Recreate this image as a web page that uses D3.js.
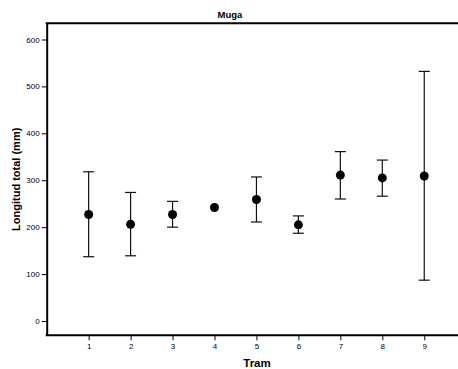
<!DOCTYPE html>
<meta charset="utf-8">
<head>
  <title>Muga</title>
</head>
<script src="https://d3js.org/d3.v7.min.js"></script>
<style>
  html, body { margin: 0; background: #fff; overflow: hidden; }
  svg { display: block; font-family: "Liberation Sans", Arial, sans-serif; overflow: hidden; }
</style>
<div id="chart"></div>
<script>

  // data
  var trams = [1, 2, 3, 4, 5, 6, 7, 8, 9];
  var means = [227, 206, 227, 242, 259, 205, 311, 305, 309];
  var lower = [137, 139, 200, 242, 211, 187, 260, 266, 87];
  var upper = [318, 274, 255, 242, 307, 224, 361, 343, 532];
  var yTicks = [0, 100, 200, 300, 400, 500, 600];

  var width = 458, height = 369;
  var margin = {top: 23.3, left: 46.7, bottom: 335.3};

  var svg = d3.select("#chart")
    .append("svg")
      .attr("width", width)
      .attr("height", height);

  var x = d3.scaleLinear()
    .domain([0, 10])
    .range([margin.left, margin.left + 419.5]);

  var y = d3.scaleLinear()
    .domain([-30.5, 634.5])
    .range([margin.bottom, margin.top]);

  // x axis
  var xAxis = svg.append("g")
    .attr("transform", "translate(0," + margin.bottom + ")")
    .call(d3.axisBottom(x).tickValues(trams).tickSize(5).tickSizeOuter(0).tickPadding(3));
  xAxis.select(".domain").remove();

  // y axis
  var yAxis = svg.append("g")
    .attr("transform", "translate(" + margin.left + ",0)")
    .call(d3.axisLeft(y).tickValues(yTicks).tickSize(5).tickSizeOuter(0).tickPadding(2));
  yAxis.select(".domain").attr("stroke-width", 2);

  svg.selectAll(".tick text")
    .style("font-size", "8px")
    .attr("fill", "#000");

  // top and bottom frame lines, open on the right
  svg.append("path")
    .attr("d", "M" + (margin.left - 1) + "," + margin.top + "H" + width +
               "M" + (margin.left - 1) + "," + margin.bottom + "H" + width)
    .attr("fill", "none")
    .attr("stroke", "#000")
    .attr("stroke-width", 2);

  // title and axis labels
  svg.append("text")
    .attr("x", 230)
    .attr("y", 18)
    .attr("text-anchor", "middle")
    .style("font-size", "9.5px")
    .style("font-weight", "bold")
    .text("Muga");

  svg.append("text")
    .attr("x", 257)
    .attr("y", 367)
    .attr("text-anchor", "middle")
    .style("font-size", "11.5px")
    .style("font-weight", "bold")
    .text("Tram");

  svg.append("text")
    .attr("transform", "translate(20," + ((margin.top + margin.bottom) / 2) + ") rotate(-90)")
    .attr("text-anchor", "middle")
    .style("font-size", "11px")
    .style("font-weight", "bold")
    .text("Longitud total (mm)");

  // error bars
  var bars = svg.append("g")
    .selectAll("g")
    .data(trams)
    .enter().append("g")
      .attr("stroke", "#111")
      .attr("stroke-width", 1.2);

  bars.filter(function(d, i) { return upper[i] > lower[i]; })
    .each(function(d) {
      var g = d3.select(this);
      var k = trams.indexOf(d);
      g.append("line")
        .attr("x1", x(d)).attr("x2", x(d))
        .attr("y1", y(upper[k])).attr("y2", y(lower[k]));
      g.append("line")
        .attr("x1", x(d) - 5.5).attr("x2", x(d) + 5.5)
        .attr("y1", y(upper[k])).attr("y2", y(upper[k]));
      g.append("line")
        .attr("x1", x(d) - 5.5).attr("x2", x(d) + 5.5)
        .attr("y1", y(lower[k])).attr("y2", y(lower[k]));
    });

  // means
  svg.append("g")
    .selectAll("circle")
    .data(trams)
    .enter().append("circle")
      .attr("cx", function(d) { return x(d); })
      .attr("cy", function(d, i) { return y(means[i]); })
      .attr("r", 4.5)
      .attr("fill", "#000");

</script>
